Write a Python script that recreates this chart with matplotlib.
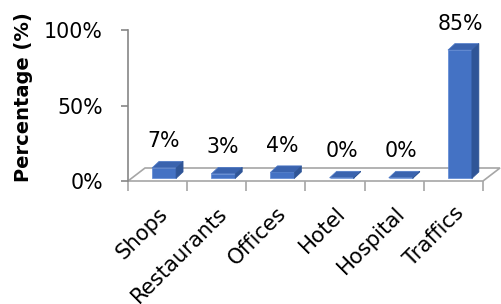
import numpy as np
import matplotlib
matplotlib.use('Agg')
import matplotlib.pyplot as plt
from matplotlib.patches import Polygon

categories = ['Shops', 'Restaurants', 'Offices', 'Hotel', 'Hospital', 'Traffics']
values = [7, 3, 4, 0.4, 0.4, 85]
labels = ['7%', '3%', '4%', '0%', '0%', '85%']
yticks = [0, 50, 100]
yticklabels = ['0%', '50%', '100%']

plt.rcParams['font.family'] = ['DejaVu Sans']

front = '#4472C4'
side = '#2F5597'
top = '#3A63AE'
grid = '#A6A6A6'

fig = plt.figure(figsize=(5.02, 3.04), dpi=100)
# front plane of the 3D box
ax = fig.add_axes([128 / 502, 1 - 181 / 304, 355 / 502, 151 / 304])
ax.set_xlim(-0.5, 5.5)
ax.set_ylim(0, 100)
for s in ax.spines.values():
    s.set_visible(False)

# depth offsets (data units)
px_x = 6 / 355
px_y = 100 / 151
floor_dx, floor_dy = 17 * px_x, 13 * px_y
bar_shift, bar_base = 6.5 * px_x, 2.6 * px_y
bar_dx, bar_dy = 7 * px_x, 6.5 * px_y
w = 0.405

# floor
floor = Polygon([(-0.5, 0), (5.5, 0), (5.5 + floor_dx, floor_dy), (-0.5 + floor_dx, floor_dy)],
                closed=True, facecolor='white', edgecolor=grid, lw=1.2, clip_on=False, zorder=1)
ax.add_patch(floor)

x = np.arange(len(categories))
xb = x + bar_shift
ax.bar(xb, values, width=w, bottom=bar_base, color=front, edgecolor='#5B86D3', lw=0.5, zorder=3, clip_on=False)
for xi, v in zip(xb, values):
    y1 = bar_base + v
    l, r = xi - w / 2, xi + w / 2
    ax.add_patch(Polygon([(l, y1), (r, y1), (r + bar_dx, y1 + bar_dy), (l + bar_dx, y1 + bar_dy)],
                         closed=True, facecolor=top, edgecolor='#4F7BC9', lw=0.5, zorder=3, clip_on=False))
    ax.add_patch(Polygon([(r, bar_base), (r + bar_dx, bar_base + bar_dy), (r + bar_dx, y1 + bar_dy), (r, y1)],
                         closed=True, facecolor=side, edgecolor=side, lw=0.5, zorder=3, clip_on=False))

for xi, v, lab in zip(xb, values, labels):
    ax.annotate(lab, (xi, bar_base + v), xytext=(0, 19), textcoords='offset points',
                ha='center', va='center', fontsize=14.8, color='black', annotation_clip=False)

# value axis
ax.plot([-0.5, -0.5], [0, 100], color='#868686', lw=1.2, clip_on=False, zorder=2)
ax.set_yticks(yticks)
ax.set_yticklabels(yticklabels, fontsize=14.8)
ax.tick_params(axis='y', length=5, width=1.2, color='#868686', pad=13)

# category axis ticks and labels
ax.set_xticks(np.arange(-0.5, 6, 1), minor=False)
ax.set_xticklabels([])
ax.tick_params(axis='x', length=7, width=1.2, color=grid, direction='out')
ax.set_xticks(x, minor=True)
ax.set_xticklabels(categories, minor=True, rotation=45, ha='right', va='top',
                   rotation_mode='anchor', fontsize=15.2)
ax.tick_params(axis='x', which='minor', length=0, pad=16)

ax.set_ylabel('Percentage (%)', fontsize=14, fontweight='bold')
ax.yaxis.set_label_coords(-0.268, 0.553)

fig.savefig('out.png', dpi=100)
